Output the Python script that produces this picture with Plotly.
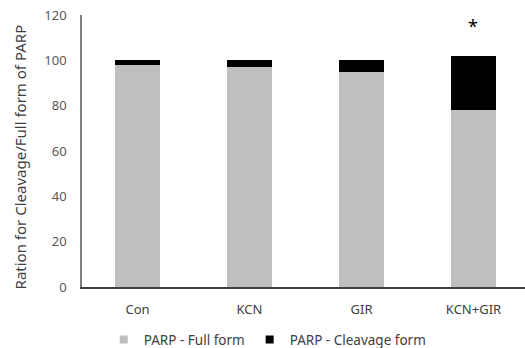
import plotly.graph_objects as go

# PARP western-blot quantification per treatment group (% of total)
groups = ["Con", "KCN", "GIR", "KCN+GIR"]
full_form = [98, 97, 95, 78]
cleavage_form = [2, 3, 5, 24]
y_ticks = [0, 20, 40, 60, 80, 100, 120]
sig_marks = ["", "", "", "*"]
y_title = "Ration for Cleavage/Full form of PARP"

series = [
    ("PARP - Full form", full_form, "#BFBFBF"),
    ("PARP - Cleavage form", cleavage_form, "#000000"),
]

FONT = "Noto Sans, Open Sans, sans-serif"

fig = go.Figure()
for name, vals, color in series:
    fig.add_trace(go.Bar(
        x=groups, y=vals, name=name,
        marker=dict(color=color, line=dict(width=0)),
        width=0.4, showlegend=False,
    ))
# compact square legend keys
for name, vals, color in series:
    fig.add_trace(go.Scatter(
        x=[None], y=[None], mode="markers", name=name,
        marker=dict(symbol="square", size=8, color=color),
    ))

# significance asterisks above stacked totals
for g, f, c, m in zip(groups, full_form, cleavage_form, sig_marks):
    if m:
        fig.add_annotation(
            x=g, y=f + c + 13, text=m, showarrow=False,
            font=dict(family=FONT, size=18, color="#000000"),
        )

# vertical axis title
fig.add_annotation(
    text=y_title, textangle=-90, showarrow=False,
    xref="paper", yref="paper", x=-0.14, y=0.48,
    xanchor="center", yanchor="middle",
    font=dict(family=FONT, size=15, color="#404040"),
)

fig.update_layout(
    barmode="stack",
    width=525, height=348,
    margin=dict(l=82, r=0, t=15, b=61, autoexpand=False),
    paper_bgcolor="white", plot_bgcolor="white",
    font=dict(family=FONT, size=13, color="#595959"),
    legend=dict(
        orientation="h", xref="container", yref="container",
        x=0.51, xanchor="center", y=0.024, yanchor="middle",
        font=dict(family=FONT, size=13.5, color="#404040"),
        itemwidth=30, traceorder="normal",
    ),
    xaxis=dict(
        range=[-0.496, 3.46],
        showline=True, linecolor="#404040", linewidth=1.5,
        ticks="", showgrid=False, ticklabelstandoff=10,
        tickfont=dict(family=FONT, size=13, color="#404040"),
    ),
    yaxis=dict(
        range=[0, 120], tickvals=y_ticks,
        showline=True, linecolor="#7F7F7F", linewidth=1.5,
        ticks="", showgrid=False, zeroline=False,
        ticklabelstandoff=11,
        tickfont=dict(family=FONT, size=13, color="#595959"),
    ),
)

fig.write_html("out.html")
